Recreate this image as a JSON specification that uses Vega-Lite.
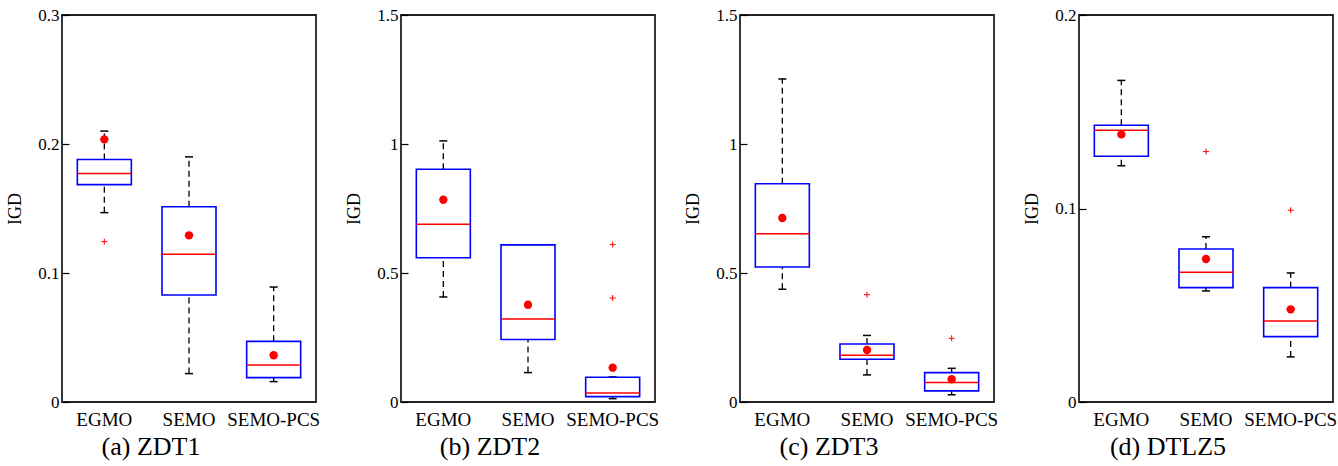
{
  "$schema": "https://vega.github.io/schema/vega-lite/v6.json",
  "background": "white",
  "padding": {"left": 5, "top": 5, "right": 0, "bottom": 0},
  "datasets": {
    "stats": [
      {"problem": "ZDT1", "alg": "EGMO", "lo": 0.1468, "q1": 0.1685, "med": 0.1772, "q3": 0.188, "hi": 0.21, "mean": 0.2036},
      {"problem": "ZDT1", "alg": "SEMO", "lo": 0.022, "q1": 0.0829, "med": 0.1145, "q3": 0.1514, "hi": 0.19, "mean": 0.1292},
      {"problem": "ZDT1", "alg": "SEMO-PCS", "lo": 0.0158, "q1": 0.0189, "med": 0.0287, "q3": 0.047, "hi": 0.0891, "mean": 0.0362},
      {"problem": "ZDT2", "alg": "EGMO", "lo": 0.407, "q1": 0.559, "med": 0.689, "q3": 0.902, "hi": 1.012, "mean": 0.784},
      {"problem": "ZDT2", "alg": "SEMO", "lo": 0.114, "q1": 0.242, "med": 0.322, "q3": 0.609, "hi": 0.609, "mean": 0.377},
      {"problem": "ZDT2", "alg": "SEMO-PCS", "lo": 0.013, "q1": 0.021, "med": 0.035, "q3": 0.096, "hi": 0.097, "mean": 0.133},
      {"problem": "ZDT3", "alg": "EGMO", "lo": 0.437, "q1": 0.523, "med": 0.652, "q3": 0.846, "hi": 1.252, "mean": 0.713},
      {"problem": "ZDT3", "alg": "SEMO", "lo": 0.105, "q1": 0.1655, "med": 0.181, "q3": 0.225, "hi": 0.258, "mean": 0.2016},
      {"problem": "ZDT3", "alg": "SEMO-PCS", "lo": 0.028, "q1": 0.043, "med": 0.076, "q3": 0.114, "hi": 0.1305, "mean": 0.088},
      {"problem": "DTLZ5", "alg": "EGMO", "lo": 0.1221, "q1": 0.127, "med": 0.1404, "q3": 0.143, "hi": 0.1662, "mean": 0.1383},
      {"problem": "DTLZ5", "alg": "SEMO", "lo": 0.0574, "q1": 0.0591, "med": 0.067, "q3": 0.0791, "hi": 0.0854, "mean": 0.0739},
      {"problem": "DTLZ5", "alg": "SEMO-PCS", "lo": 0.0233, "q1": 0.0338, "med": 0.0419, "q3": 0.0591, "hi": 0.0667, "mean": 0.0479}
    ],
    "outliers": [
      {"problem": "ZDT1", "alg": "EGMO", "value": 0.1243},
      {"problem": "ZDT2", "alg": "SEMO-PCS", "value": 0.61},
      {"problem": "ZDT2", "alg": "SEMO-PCS", "value": 0.403},
      {"problem": "ZDT3", "alg": "SEMO", "value": 0.416},
      {"problem": "ZDT3", "alg": "SEMO-PCS", "value": 0.247},
      {"problem": "DTLZ5", "alg": "SEMO", "value": 0.1294},
      {"problem": "DTLZ5", "alg": "SEMO-PCS", "value": 0.0991}
    ]
  },
  "spacing": 23,
  "hconcat": [
    {
      "width": 254, "height": 387,
      "title": {"text": "(a) ZDT1"},
      "encoding": {"x": {"field": "alg", "type": "nominal", "title": null, "scale": {"domain": ["EGMO", "SEMO", "SEMO-PCS"], "paddingInner": 0, "paddingOuter": 0}}},
      "layer": [
        {
          "data": {"name": "stats"},
          "transform": [{"filter": "datum.problem === 'ZDT1'"}],
          "layer": [
            {"mark": {"type": "rule", "color": "#000", "strokeDash": [6, 4], "strokeWidth": 1.3},
             "encoding": {"y": {"field": "lo", "type": "quantitative", "title": "IGD", "scale": {"domain": [0, 0.3], "nice": false}, "axis": {"values": [0, 0.1, 0.2, 0.3]}}, "y2": {"field": "q1"}}},
            {"mark": {"type": "rule", "color": "#000", "strokeDash": [6, 4], "strokeWidth": 1.3},
             "encoding": {"y": {"field": "q3", "type": "quantitative", "title": "IGD"}, "y2": {"field": "hi"}}},
            {"mark": {"type": "tick", "color": "#000", "size": 8, "thickness": 1.5, "opacity": 1},
             "encoding": {"y": {"field": "lo", "type": "quantitative", "title": "IGD"}}},
            {"mark": {"type": "tick", "color": "#000", "size": 8, "thickness": 1.5, "opacity": 1},
             "encoding": {"y": {"field": "hi", "type": "quantitative", "title": "IGD"}}},
            {"mark": {"type": "bar", "width": 54, "fill": "white", "stroke": "#0000ff", "strokeWidth": 1.6},
             "encoding": {"y": {"field": "q1", "type": "quantitative", "title": "IGD"}, "y2": {"field": "q3"}}},
            {"mark": {"type": "tick", "color": "#ff0000", "size": 54, "thickness": 1.5, "opacity": 1},
             "encoding": {"y": {"field": "med", "type": "quantitative", "title": "IGD"}}},
            {"mark": {"type": "point", "filled": true, "color": "#ff0000", "size": 70, "opacity": 1},
             "encoding": {"y": {"field": "mean", "type": "quantitative", "title": "IGD"}}}
          ]
        },
        {
          "data": {"name": "outliers"},
          "transform": [{"filter": "datum.problem === 'ZDT1'"}],
          "mark": {"type": "point", "shape": "M-1,0L1,0M0,-1L0,1", "filled": false, "stroke": "#ff0000", "strokeWidth": 1, "size": 36, "opacity": 1},
          "encoding": {"y": {"field": "value", "type": "quantitative", "title": "IGD"}}
        }
      ]
    },
    {
      "width": 254, "height": 387,
      "title": {"text": "(b) ZDT2"},
      "encoding": {"x": {"field": "alg", "type": "nominal", "title": null, "scale": {"domain": ["EGMO", "SEMO", "SEMO-PCS"], "paddingInner": 0, "paddingOuter": 0}}},
      "layer": [
        {
          "data": {"name": "stats"},
          "transform": [{"filter": "datum.problem === 'ZDT2'"}],
          "layer": [
            {"mark": {"type": "rule", "color": "#000", "strokeDash": [6, 4], "strokeWidth": 1.3},
             "encoding": {"y": {"field": "lo", "type": "quantitative", "title": "IGD", "scale": {"domain": [0, 1.5], "nice": false}, "axis": {"values": [0, 0.5, 1, 1.5]}}, "y2": {"field": "q1"}}},
            {"mark": {"type": "rule", "color": "#000", "strokeDash": [6, 4], "strokeWidth": 1.3},
             "encoding": {"y": {"field": "q3", "type": "quantitative", "title": "IGD"}, "y2": {"field": "hi"}}},
            {"mark": {"type": "tick", "color": "#000", "size": 8, "thickness": 1.5, "opacity": 1},
             "encoding": {"y": {"field": "lo", "type": "quantitative", "title": "IGD"}}},
            {"mark": {"type": "tick", "color": "#000", "size": 8, "thickness": 1.5, "opacity": 1},
             "encoding": {"y": {"field": "hi", "type": "quantitative", "title": "IGD"}}},
            {"mark": {"type": "bar", "width": 54, "fill": "white", "stroke": "#0000ff", "strokeWidth": 1.6},
             "encoding": {"y": {"field": "q1", "type": "quantitative", "title": "IGD"}, "y2": {"field": "q3"}}},
            {"mark": {"type": "tick", "color": "#ff0000", "size": 54, "thickness": 1.5, "opacity": 1},
             "encoding": {"y": {"field": "med", "type": "quantitative", "title": "IGD"}}},
            {"mark": {"type": "point", "filled": true, "color": "#ff0000", "size": 70, "opacity": 1},
             "encoding": {"y": {"field": "mean", "type": "quantitative", "title": "IGD"}}}
          ]
        },
        {
          "data": {"name": "outliers"},
          "transform": [{"filter": "datum.problem === 'ZDT2'"}],
          "mark": {"type": "point", "shape": "M-1,0L1,0M0,-1L0,1", "filled": false, "stroke": "#ff0000", "strokeWidth": 1, "size": 36, "opacity": 1},
          "encoding": {"y": {"field": "value", "type": "quantitative", "title": "IGD"}}
        }
      ]
    },
    {
      "width": 254, "height": 387,
      "title": {"text": "(c) ZDT3"},
      "encoding": {"x": {"field": "alg", "type": "nominal", "title": null, "scale": {"domain": ["EGMO", "SEMO", "SEMO-PCS"], "paddingInner": 0, "paddingOuter": 0}}},
      "layer": [
        {
          "data": {"name": "stats"},
          "transform": [{"filter": "datum.problem === 'ZDT3'"}],
          "layer": [
            {"mark": {"type": "rule", "color": "#000", "strokeDash": [6, 4], "strokeWidth": 1.3},
             "encoding": {"y": {"field": "lo", "type": "quantitative", "title": "IGD", "scale": {"domain": [0, 1.5], "nice": false}, "axis": {"values": [0, 0.5, 1, 1.5]}}, "y2": {"field": "q1"}}},
            {"mark": {"type": "rule", "color": "#000", "strokeDash": [6, 4], "strokeWidth": 1.3},
             "encoding": {"y": {"field": "q3", "type": "quantitative", "title": "IGD"}, "y2": {"field": "hi"}}},
            {"mark": {"type": "tick", "color": "#000", "size": 8, "thickness": 1.5, "opacity": 1},
             "encoding": {"y": {"field": "lo", "type": "quantitative", "title": "IGD"}}},
            {"mark": {"type": "tick", "color": "#000", "size": 8, "thickness": 1.5, "opacity": 1},
             "encoding": {"y": {"field": "hi", "type": "quantitative", "title": "IGD"}}},
            {"mark": {"type": "bar", "width": 54, "fill": "white", "stroke": "#0000ff", "strokeWidth": 1.6},
             "encoding": {"y": {"field": "q1", "type": "quantitative", "title": "IGD"}, "y2": {"field": "q3"}}},
            {"mark": {"type": "tick", "color": "#ff0000", "size": 54, "thickness": 1.5, "opacity": 1},
             "encoding": {"y": {"field": "med", "type": "quantitative", "title": "IGD"}}},
            {"mark": {"type": "point", "filled": true, "color": "#ff0000", "size": 70, "opacity": 1},
             "encoding": {"y": {"field": "mean", "type": "quantitative", "title": "IGD"}}}
          ]
        },
        {
          "data": {"name": "outliers"},
          "transform": [{"filter": "datum.problem === 'ZDT3'"}],
          "mark": {"type": "point", "shape": "M-1,0L1,0M0,-1L0,1", "filled": false, "stroke": "#ff0000", "strokeWidth": 1, "size": 36, "opacity": 1},
          "encoding": {"y": {"field": "value", "type": "quantitative", "title": "IGD"}}
        }
      ]
    },
    {
      "width": 254, "height": 387,
      "title": {"text": "(d) DTLZ5"},
      "encoding": {"x": {"field": "alg", "type": "nominal", "title": null, "scale": {"domain": ["EGMO", "SEMO", "SEMO-PCS"], "paddingInner": 0, "paddingOuter": 0}}},
      "layer": [
        {
          "data": {"name": "stats"},
          "transform": [{"filter": "datum.problem === 'DTLZ5'"}],
          "layer": [
            {"mark": {"type": "rule", "color": "#000", "strokeDash": [6, 4], "strokeWidth": 1.3},
             "encoding": {"y": {"field": "lo", "type": "quantitative", "title": "IGD", "scale": {"domain": [0, 0.2], "nice": false}, "axis": {"values": [0, 0.1, 0.2]}}, "y2": {"field": "q1"}}},
            {"mark": {"type": "rule", "color": "#000", "strokeDash": [6, 4], "strokeWidth": 1.3},
             "encoding": {"y": {"field": "q3", "type": "quantitative", "title": "IGD"}, "y2": {"field": "hi"}}},
            {"mark": {"type": "tick", "color": "#000", "size": 8, "thickness": 1.5, "opacity": 1},
             "encoding": {"y": {"field": "lo", "type": "quantitative", "title": "IGD"}}},
            {"mark": {"type": "tick", "color": "#000", "size": 8, "thickness": 1.5, "opacity": 1},
             "encoding": {"y": {"field": "hi", "type": "quantitative", "title": "IGD"}}},
            {"mark": {"type": "bar", "width": 54, "fill": "white", "stroke": "#0000ff", "strokeWidth": 1.6},
             "encoding": {"y": {"field": "q1", "type": "quantitative", "title": "IGD"}, "y2": {"field": "q3"}}},
            {"mark": {"type": "tick", "color": "#ff0000", "size": 54, "thickness": 1.5, "opacity": 1},
             "encoding": {"y": {"field": "med", "type": "quantitative", "title": "IGD"}}},
            {"mark": {"type": "point", "filled": true, "color": "#ff0000", "size": 70, "opacity": 1},
             "encoding": {"y": {"field": "mean", "type": "quantitative", "title": "IGD"}}}
          ]
        },
        {
          "data": {"name": "outliers"},
          "transform": [{"filter": "datum.problem === 'DTLZ5'"}],
          "mark": {"type": "point", "shape": "M-1,0L1,0M0,-1L0,1", "filled": false, "stroke": "#ff0000", "strokeWidth": 1, "size": 36, "opacity": 1},
          "encoding": {"y": {"field": "value", "type": "quantitative", "title": "IGD"}}
        }
      ]
    }
  ],
  "config": {
    "font": "Liberation Serif",
    "view": {"stroke": "#222", "strokeWidth": 1.8},
    "title": {"orient": "bottom", "font": "Liberation Serif", "fontSize": 26, "fontWeight": "normal", "color": "#000", "anchor": "middle", "frame": "group", "dx": -38, "offset": 5},
    "axisX": {"domain": false, "ticks": false, "labelFont": "Liberation Serif", "labelFontSize": 19, "labelPadding": 8, "labelAngle": 0, "labelColor": "#000", "grid": false},
    "axisY": {"domain": false, "grid": false, "tickSize": -7, "tickColor": "#000", "tickWidth": 1.2, "labelFont": "Liberation Serif", "labelFontSize": 17, "labelPadding": 10, "labelColor": "#000", "format": "~g", "titleFont": "Liberation Serif", "titleFontSize": 18, "titleFontWeight": "normal", "titleColor": "#000", "titlePadding": 13}
  }
}
